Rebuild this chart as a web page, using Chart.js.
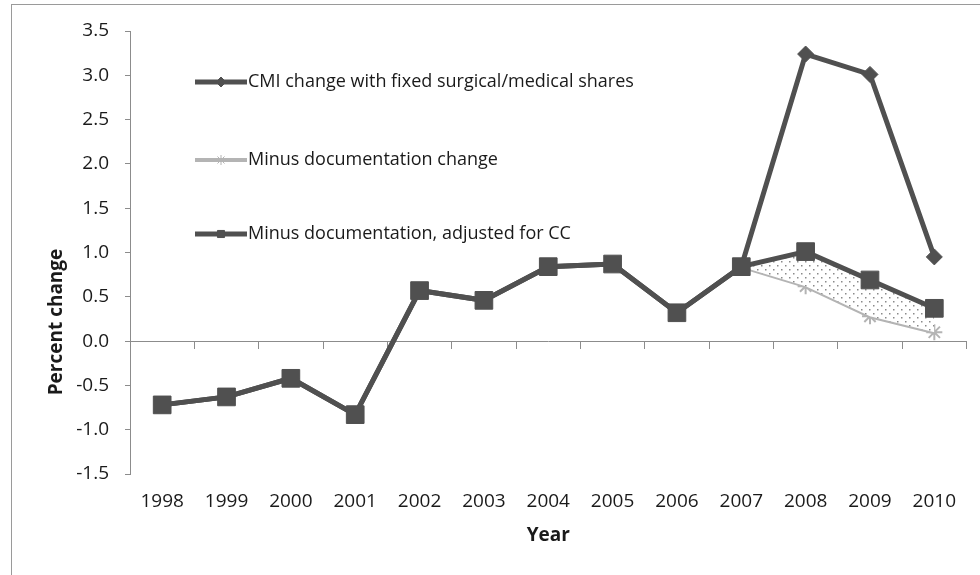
<!DOCTYPE html>
<html>
<head>
<meta charset="utf-8">
<script src="https://cdn.jsdelivr.net/npm/chart.js@4.4.1/dist/chart.umd.min.js"></script>
<style>
  html, body { margin: 0; padding: 0; background: #fff; }
  #wrap { width: 980px; height: 575px; position: relative; }
</style>
</head>
<body>
<div id="wrap"><canvas id="cmiChart"></canvas></div>
<script>
// Chart data
const years = ['1998', '1999', '2000', '2001', '2002', '2003', '2004', '2005', '2006', '2007', '2008', '2009', '2010'];
const cmiFixedShares = [-0.72, -0.63, -0.42, -0.83, 0.57, 0.46, 0.84, 0.87, 0.32, 0.84, 3.24, 3.01, 0.95];
const minusDocumentation = [-0.72, -0.63, -0.42, -0.83, 0.57, 0.46, 0.84, 0.87, 0.32, 0.84, 0.62, 0.28, 0.10];
const minusDocAdjustedCC = [-0.72, -0.63, -0.42, -0.83, 0.57, 0.46, 0.84, 0.87, 0.32, 0.84, 1.01, 0.69, 0.37];
const yTicks = { min: -1.5, max: 3.5, step: 0.5 };

const DARK = '#505050';
const LIGHT = '#b4b4b4';
const AXIS = '#8c8c8c';
const FONT = "'Open Sans', sans-serif";

// dotted fill between the two lower lines
function dotPattern() {
  const c = document.createElement('canvas');
  c.width = 8; c.height = 8;
  const g = c.getContext('2d');
  g.fillStyle = '#ffffff';
  g.fillRect(0, 0, 8, 8);
  g.fillStyle = '#8a8a8a';
  g.fillRect(1, 1, 1.5, 1.5);
  g.fillRect(5, 5, 1.5, 1.5);
  return g.createPattern(c, 'repeat');
}
const dots = dotPattern();

// outer frame and y title
const decorations = {
  id: 'decorations',
  beforeDraw(chart) {
    const ctx = chart.ctx;
    ctx.save();
    ctx.strokeStyle = '#9a9a9a';
    ctx.lineWidth = 1;
    ctx.strokeRect(11.5, 4.5, 1200, 1200);

    ctx.translate(57, 322);
    ctx.rotate(-Math.PI / 2);
    ctx.fillStyle = '#1a1a1a';
    ctx.font = "bold 19px " + FONT;
    ctx.textAlign = 'center';
    ctx.textBaseline = 'middle';
    ctx.fillText('Percent change', 0, 0);
    ctx.restore();
  }
};

// legend drawn inside the plot, top left
const insideLegend = {
  id: 'insideLegend',
  afterDraw(chart) {
    const ctx = chart.ctx;
    const rows = [82, 160, 234];
    ctx.save();
    chart.data.datasets.forEach((ds, i) => {
      const y = rows[i];
      ctx.strokeStyle = ds.borderColor;
      ctx.lineWidth = ds.borderWidth;
      ctx.beginPath();
      ctx.moveTo(195, y);
      ctx.lineTo(247, y);
      ctx.stroke();
      ctx.fillStyle = ds.pointBackgroundColor;
      ctx.strokeStyle = ds.pointBorderColor;
      ctx.lineWidth = 1;
      Chart.helpers.drawPoint(ctx, {
        pointStyle: ds.pointStyle,
        radius: 5,
        rotation: 0,
        borderWidth: ds.pointBorderWidth
      }, 221, y);
      ctx.fillStyle = '#1a1a1a';
      ctx.font = "18px " + FONT;
      ctx.textAlign = 'left';
      ctx.textBaseline = 'middle';
      ctx.fillText(ds.label, 248, y);
    });
    ctx.restore();
  }
};

const ctx = document.getElementById('cmiChart').getContext('2d');
new Chart(ctx, {
  type: 'line',
  data: {
    labels: years,
    datasets: [{
      label: 'CMI change with fixed surgical/medical shares',
      data: cmiFixedShares,
      borderColor: DARK,
      borderWidth: 5,
      pointStyle: 'rectRot',
      pointRadius: 8,
      pointBackgroundColor: DARK,
      pointBorderColor: DARK,
      pointBorderWidth: 1,
      order: 1
    }, {
      label: 'Minus documentation change',
      data: minusDocumentation,
      borderColor: LIGHT,
      borderWidth: 4,
      pointStyle: 'star',
      pointRadius: 8,
      pointBackgroundColor: LIGHT,
      pointBorderColor: LIGHT,
      pointBorderWidth: 2,
      order: 2
    }, {
      label: 'Minus documentation, adjusted for CC',
      data: minusDocAdjustedCC,
      borderColor: DARK,
      borderWidth: 5,
      pointStyle: 'rect',
      pointRadius: 12.5,
      pointBackgroundColor: DARK,
      pointBorderColor: DARK,
      pointBorderWidth: 1,
      fill: { target: 1, above: dots, below: dots },
      order: 0
    }]
  },
  options: {
    responsive: true,
    maintainAspectRatio: false,
    animation: false,
    layout: { padding: { top: 31, right: 11, left: 0, bottom: 0 } },
    plugins: {
      legend: { display: false },
      tooltip: { enabled: false }
    },
    scales: {
      x: {
        offset: true,
        grid: { display: false },
        border: { display: false },
        ticks: { color: '#1a1a1a', font: { family: FONT, size: 19 }, padding: 8, maxRotation: 0 },
        title: { display: true, text: 'Year', color: '#1a1a1a', font: { family: FONT, size: 19, weight: 'bold' }, padding: { top: 10, bottom: 28 } },
        afterFit(scale) { scale.height = 101; }
      },
      // zero line with the category tick marks
      x0: {
        type: 'category',
        labels: years,
        position: { y: 0 },
        offset: true,
        grid: { offset: true, drawOnChartArea: false, drawTicks: true, tickLength: 7, color: AXIS, lineWidth: 1 },
        border: { display: true, color: AXIS, width: 1 },
        ticks: { display: false },
        afterFit(scale) { scale.height = 0; }
      },
      y: {
        min: yTicks.min,
        max: yTicks.max,
        grid: { drawOnChartArea: false, color: AXIS, tickLength: 5 },
        border: { color: AXIS },
        ticks: {
          stepSize: yTicks.step,
          color: '#1a1a1a',
          padding: 16,
          font: { family: FONT, size: 19 },
          callback: v => v.toFixed(1)
        },
        afterFit(scale) { scale.width = 130; }
      }
    }
  },
  plugins: [decorations, insideLegend]
});
</script>
</body>
</html>
